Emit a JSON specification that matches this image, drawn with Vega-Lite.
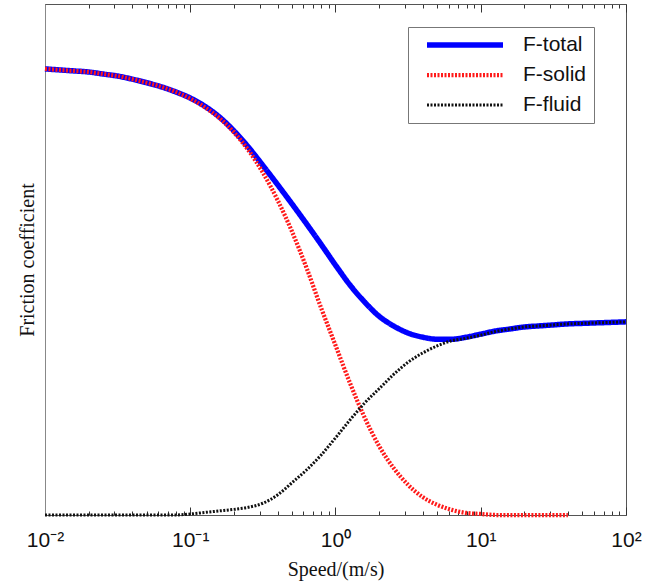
{
  "$schema": "https://vega.github.io/schema/vega-lite/v6.json",
  "width": 581,
  "height": 511,
  "autosize": {"type": "none"},
  "padding": {"left": 45, "top": 4, "right": 31, "bottom": 67},
  "background": "white",
  "config": {"view": {"stroke": "#555", "strokeWidth": 1}, "font": "Liberation Sans"},
  "data": {"values": [
    {"speed": 0.01, "F-total": 0.873, "F-solid": 0.873, "F-fluid": 0},
    {"speed": 0.012589, "F-total": 0.871, "F-solid": 0.871, "F-fluid": 0},
    {"speed": 0.015849, "F-total": 0.869, "F-solid": 0.869, "F-fluid": 0},
    {"speed": 0.019953, "F-total": 0.867, "F-solid": 0.867, "F-fluid": 0},
    {"speed": 0.025119, "F-total": 0.863, "F-solid": 0.863, "F-fluid": 0},
    {"speed": 0.031623, "F-total": 0.859, "F-solid": 0.859, "F-fluid": 0},
    {"speed": 0.039811, "F-total": 0.853, "F-solid": 0.853, "F-fluid": 0},
    {"speed": 0.050119, "F-total": 0.846, "F-solid": 0.846, "F-fluid": 0},
    {"speed": 0.063096, "F-total": 0.838, "F-solid": 0.838, "F-fluid": 0},
    {"speed": 0.079433, "F-total": 0.828, "F-solid": 0.828, "F-fluid": 0},
    {"speed": 0.1, "F-total": 0.816, "F-solid": 0.815, "F-fluid": 0.002},
    {"speed": 0.125893, "F-total": 0.800, "F-solid": 0.798, "F-fluid": 0.005},
    {"speed": 0.158489, "F-total": 0.779, "F-solid": 0.777, "F-fluid": 0.008},
    {"speed": 0.199526, "F-total": 0.752, "F-solid": 0.749, "F-fluid": 0.011},
    {"speed": 0.251189, "F-total": 0.720, "F-solid": 0.714, "F-fluid": 0.015},
    {"speed": 0.316228, "F-total": 0.684, "F-solid": 0.670, "F-fluid": 0.023},
    {"speed": 0.398107, "F-total": 0.647, "F-solid": 0.617, "F-fluid": 0.039},
    {"speed": 0.501187, "F-total": 0.609, "F-solid": 0.555, "F-fluid": 0.063},
    {"speed": 0.630957, "F-total": 0.570, "F-solid": 0.484, "F-fluid": 0.088},
    {"speed": 0.794328, "F-total": 0.530, "F-solid": 0.406, "F-fluid": 0.117},
    {"speed": 1, "F-total": 0.489, "F-solid": 0.332, "F-fluid": 0.151},
    {"speed": 1.258925, "F-total": 0.450, "F-solid": 0.258, "F-fluid": 0.186},
    {"speed": 1.584893, "F-total": 0.417, "F-solid": 0.191, "F-fluid": 0.219},
    {"speed": 1.995262, "F-total": 0.389, "F-solid": 0.135, "F-fluid": 0.247},
    {"speed": 2.511886, "F-total": 0.370, "F-solid": 0.092, "F-fluid": 0.275},
    {"speed": 3.162278, "F-total": 0.356, "F-solid": 0.059, "F-fluid": 0.299},
    {"speed": 3.981072, "F-total": 0.348, "F-solid": 0.035, "F-fluid": 0.317},
    {"speed": 5.011872, "F-total": 0.344, "F-solid": 0.020, "F-fluid": 0.331},
    {"speed": 6.309573, "F-total": 0.344, "F-solid": 0.010, "F-fluid": 0.341},
    {"speed": 7.943282, "F-total": 0.348, "F-solid": 0.004, "F-fluid": 0.346},
    {"speed": 10, "F-total": 0.354, "F-solid": 0.002, "F-fluid": 0.352},
    {"speed": 12.589254, "F-total": 0.360, "F-solid": 0, "F-fluid": 0.359},
    {"speed": 15.848932, "F-total": 0.364, "F-solid": 0, "F-fluid": 0.364},
    {"speed": 19.952623, "F-total": 0.368, "F-solid": 0, "F-fluid": 0.368},
    {"speed": 25.118864, "F-total": 0.370, "F-solid": 0, "F-fluid": 0.370},
    {"speed": 31.622777, "F-total": 0.372, "F-solid": 0, "F-fluid": 0.372},
    {"speed": 39.810717, "F-total": 0.374, "F-solid": 0, "F-fluid": 0.374},
    {"speed": 50.118723, "F-total": 0.375, "F-solid": null, "F-fluid": 0.375},
    {"speed": 63.095734, "F-total": 0.376, "F-solid": null, "F-fluid": 0.376},
    {"speed": 79.432823, "F-total": 0.377, "F-solid": null, "F-fluid": 0.377},
    {"speed": 100, "F-total": 0.378, "F-solid": null, "F-fluid": 0.378}
  ]},
  "transform": [
    {"fold": ["F-total", "F-solid", "F-fluid"], "as": ["series", "value"]},
    {"filter": "isValid(datum.value)"}
  ],
  "layer": [
    {
      "mark": {"type": "line", "interpolate": "monotone"},
      "encoding": {
        "x": {
          "field": "speed", "type": "quantitative",
          "scale": {"type": "log", "domain": [0.01, 100], "nice": false},
          "axis": {
            "values": [0.01,0.02,0.03,0.04,0.05,0.06,0.07,0.08,0.09,0.1,0.2,0.3,0.4,0.5,0.6,0.7,0.8,0.9,1,2,3,4,5,6,7,8,9,10,20,30,40,50,60,70,80,90,100],
            "labelExpr": "datum.value==0.01?'10⁻²':datum.value==0.1?'10⁻¹':datum.value==1?'10⁰':datum.value==10?'10¹':datum.value==100?'10²':''",
            "tickSize": {"condition": {"test": "datum.value==0.01||datum.value==0.1||datum.value==1||datum.value==10||datum.value==100", "value": -8}, "value": -4},
            "tickColor": "#333",
            "domainColor": "#555",
            "grid": false,
            "labelFont": "Liberation Sans",
            "labelFontSize": 21,
            "labelColor": "#111",
            "labelPadding": 22,
            "labelFlush": false,
            "labelOverlap": false,
            "title": "Speed/(m/s)",
            "titleFont": "Liberation Serif",
            "titleFontSize": 20,
            "titleFontWeight": "normal",
            "titleColor": "#111",
            "titlePadding": 5
          }
        },
        "y": {
          "field": "value", "type": "quantitative",
          "scale": {"domain": [0, 1], "nice": false},
          "axis": {
            "title": "Friction coefficient",
            "labels": false, "ticks": false, "grid": false,
            "domainColor": "#888",
            "titleFont": "Liberation Serif",
            "titleFontSize": 20,
            "titleFontWeight": "normal",
            "titleColor": "#111",
            "titlePadding": 8
          }
        },
        "color": {
          "field": "series", "type": "nominal",
          "scale": {"domain": ["F-total", "F-solid", "F-fluid"], "range": ["#0000ff", "#ff1a1a", "#111111"]},
          "legend": {
            "title": null,
            "orient": "none",
            "legendX": 363,
            "legendY": 23,
            "symbolType": "stroke",
            "symbolSize": 5776,
            "clipHeight": 22,
            "rowPadding": 8,
            "symbolOffset": 9,
            "labelOffset": 17,
            "labelExpr": "datum.label + '\u00a0\u00a0'",
            "labelFont": "Liberation Sans",
            "labelFontSize": 21,
            "labelColor": "#111",
            "strokeColor": "#777",
            "fillColor": "white",
            "padding": 7
          }
        },
        "strokeDash": {
          "field": "series", "type": "nominal",
          "scale": {"domain": ["F-total", "F-solid", "F-fluid"], "range": [[1, 0], [2, 1.5], [2, 1.5]]}
        },
        "strokeWidth": {
          "field": "series", "type": "nominal",
          "scale": {"domain": ["F-total", "F-solid", "F-fluid"], "range": [5.5, 3, 3.5]}
        }
      }
    },
    {
      "mark": {"type": "point", "opacity": 0},
      "encoding": {
        "x": {
          "field": "speed", "type": "quantitative",
          "scale": {"type": "log", "domain": [0.01, 100], "nice": false},
          "axis": {
            "orient": "top",
            "values": [0.01,0.02,0.03,0.04,0.05,0.06,0.07,0.08,0.09,0.1,0.2,0.3,0.4,0.5,0.6,0.7,0.8,0.9,1,2,3,4,5,6,7,8,9,10,20,30,40,50,60,70,80,90,100],
            "labels": false,
            "title": null,
            "grid": false,
            "tickSize": {"condition": {"test": "datum.value==0.01||datum.value==0.1||datum.value==1||datum.value==10||datum.value==100", "value": -8}, "value": -4},
            "tickColor": "#333",
            "domainColor": "#555"
          }
        },
        "y": {
          "field": "value", "type": "quantitative",
          "scale": {"domain": [0, 1], "nice": false},
          "axis": {
            "title": "Friction coefficient",
            "labels": false, "ticks": false, "grid": false,
            "domainColor": "#888",
            "titleFont": "Liberation Serif",
            "titleFontSize": 20,
            "titleFontWeight": "normal",
            "titleColor": "#111",
            "titlePadding": 8
          }
        }
      }
    }
  ],
  "resolve": {"axis": {"x": "independent"}}
}
